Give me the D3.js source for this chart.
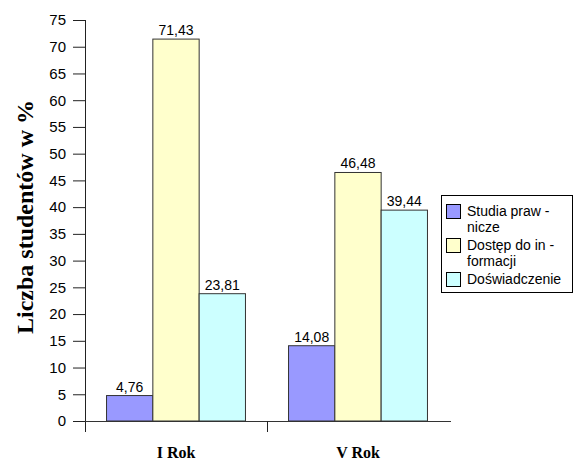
<!DOCTYPE html>
<html><head><meta charset="utf-8">
<script src="https://cdn.jsdelivr.net/npm/d3@7"></script>
<style>body{margin:0;background:#fff}svg{display:block}</style>
</head><body>
<svg id="c" width="574" height="462"></svg>
<script>
const categories = ["I Rok", "V Rok"];
const seriesNames = ["Studia prawnicze", "Dostęp do informacji", "Doświadczenie"];
const legendLines = [["Studia praw -", "nicze"], ["Dostęp do in -", "formacji"], ["Doświadczenie"]];
const studiaValues = [4.76, 14.08];
const dostepValues = [71.43, 46.48];
const doswiadczenieValues = [23.81, 39.44];
const colors = ["#9999FF", "#FFFFCC", "#CCFFFF"];
const yTicks = d3.range(0, 80, 5);
const yTitle = "Liczba studentów w %";

const allValues = [studiaValues, dostepValues, doswiadczenieValues];
const svg = d3.select("#c");
const mLeft = 85, mRight = 449, mTop = 20, mBottom = 421;

const y = d3.scaleLinear().domain([0, 75]).range([mBottom, mTop]);
const x0 = d3.scaleBand().domain(categories).range([mLeft, mRight]).paddingInner(0).paddingOuter(0);
const x1 = d3.scaleBand().domain(d3.range(3)).range([0, x0.bandwidth()]).paddingInner(0).paddingOuter(0.465);

// y axis
const yAxis = d3.axisLeft(y).tickValues(yTicks).tickSize(12).tickPadding(7).tickFormat(d3.format("d"));
const gy = svg.append("g").attr("transform", `translate(${mLeft},0)`).call(yAxis);
gy.select(".domain").attr("stroke", "#222").attr("d", `M0.5,${mTop}V${mBottom + 11}`);
gy.selectAll(".tick line").attr("stroke", "#222");
gy.selectAll(".tick text").attr("font-family", "Liberation Sans, Arial, sans-serif").attr("font-size", 15).attr("fill", "#000");

// x axis
const xAxis = d3.axisBottom(x0).tickSize(0).tickFormat("");
const gx = svg.append("g").attr("transform", `translate(0,${mBottom})`).call(xAxis);
gx.select(".domain").attr("stroke", "#333").attr("d", `M${mLeft},0.5H${mRight + 2}`);
// category separators
svg.append("g").selectAll("line").data(categories.slice(1)).join("line")
  .attr("x1", d => x0(d) + 0.5).attr("x2", d => x0(d) + 0.5)
  .attr("y1", mBottom).attr("y2", mBottom + 11).attr("stroke", "#222");
svg.append("g").selectAll("text").data(categories).join("text")
  .attr("x", d => x0(d) + x0.bandwidth() / 2).attr("y", 458)
  .attr("text-anchor", "middle").attr("font-family", "Liberation Serif, Times New Roman, serif")
  .attr("font-weight", "bold").attr("font-size", 16).text(d => d);

// bars
const fmt = v => v.toFixed(2).replace(".", ",");
categories.forEach((c, ci) => {
  const g = svg.append("g").attr("transform", `translate(${x0(c)},0)`);
  allValues.forEach((vals, si) => {
    const v = vals[ci];
    g.append("rect").attr("x", x1(si)).attr("y", y(v)).attr("width", x1.bandwidth()).attr("height", y(0) - y(v))
      .attr("fill", colors[si]).attr("stroke", "#333").attr("stroke-width", 1);
    g.append("text").attr("x", x1(si) + x1.bandwidth() / 2).attr("y", y(v) - 4)
      .attr("text-anchor", "middle").attr("font-family", "Liberation Sans, Arial, sans-serif")
      .attr("font-size", 14).text(fmt(v));
  });
});

// y title
svg.append("text").attr("transform", "translate(33,217) rotate(-90)")
  .attr("text-anchor", "middle").attr("font-family", "Liberation Serif, Times New Roman, serif")
  .attr("font-weight", "bold").attr("font-size", 24).text(yTitle);

// legend
const lg = svg.append("g");
lg.append("rect").attr("x", 441.5).attr("y", 195.5).attr("width", 131).attr("height", 97)
  .attr("fill", "#fff").attr("stroke", "#000");
const entryY = [204, 238, 272];
seriesNames.forEach((n, i) => {
  lg.append("rect").attr("x", 446.5).attr("y", entryY[i] + 0.5).attr("width", 14).attr("height", 14)
    .attr("fill", colors[i]).attr("stroke", "#000");
  legendLines[i].forEach((ln, li) => {
    lg.append("text").attr("x", 467).attr("y", entryY[i] + 12 + li * 16)
      .attr("font-family", "Liberation Sans, Arial, sans-serif").attr("font-size", 14).text(ln);
  });
});
</script>
</body></html>
